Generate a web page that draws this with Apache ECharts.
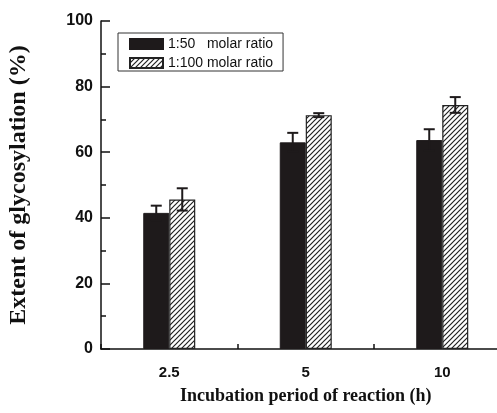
<!DOCTYPE html>
<html><head><meta charset="utf-8">
<script src="https://cdn.jsdelivr.net/npm/echarts@6/dist/echarts.min.js"></script>
<style>html,body{margin:0;padding:0;background:#fff}#c{width:497px;height:413px}</style>
</head><body><div id="c"></div>
<script>
const categories = ['2.5', '5', '10'];
const ratio50 = [41.5, 63.0, 63.7];
const ratio50Err = [2.2, 2.9, 3.3];
const ratio100 = [45.6, 71.3, 74.4];
const ratio100Err = [3.4, 0.6, 2.4];
const seriesNames = ['1:50   molar ratio', '1:100 molar ratio'];

function makeHatch(){
  const c = document.createElement('canvas'); c.width = 5; c.height = 5;
  const g = c.getContext('2d');
  g.fillStyle = '#fff'; g.fillRect(0,0,5,5);
  g.strokeStyle = '#222'; g.lineWidth = 1.2;
  g.beginPath();
  g.moveTo(0,5); g.lineTo(5,0);
  g.moveTo(-1,1); g.lineTo(1,-1);
  g.moveTo(4,6); g.lineTo(6,4);
  g.stroke();
  return c;
}
const hatch = {image: makeHatch(), repeat: 'repeat'};
const BW = 26;

function errSeries(vals, errs, offset){
  return {
    type: 'custom',
    z: 5,
    silent: true,
    data: vals.map((v,i)=>[i, v, errs[i]]),
    encode: {x: 0, y: 1},
    renderItem(params, api){
      const i = api.value(0), v = api.value(1), e = api.value(2);
      const hi = api.coord([i, v + e]);
      const lo = api.coord([i, v - e]);
      const x = hi[0] + offset;
      const st = {stroke: '#1e1a1b', lineWidth: 2};
      return {type: 'group', children: [
        {type: 'line', shape: {x1: x, y1: hi[1], x2: x, y2: lo[1]}, style: st},
        {type: 'line', shape: {x1: x-5.5, y1: hi[1], x2: x+5.5, y2: hi[1]}, style: st},
        {type: 'line', shape: {x1: x-5.5, y1: lo[1], x2: x+5.5, y2: lo[1]}, style: st}
      ]};
    }
  };
}

const chart = echarts.init(document.getElementById('c'));
chart.setOption({
  animation: false,
  backgroundColor: '#fff',
  grid: {left: 101, right: -13.5, top: 21, bottom: 64, containLabel: false, outerBoundsMode: 'none'},
  legend: {
    orient: 'vertical', left: 118, top: 33,
    data: seriesNames,
    icon: 'rect', itemWidth: 33, itemHeight: 10, itemGap: 5,
    padding: [4, 10, 1, 11],
    borderColor: '#333', borderWidth: 1,
    textStyle: {fontFamily: 'Liberation Sans, Arial, sans-serif', fontSize: 14, color: '#111'},
    selectedMode: false
  },
  xAxis: {
    type: 'category', data: categories, boundaryGap: true,
    name: 'Incubation period of reaction (h)', nameLocation: 'middle', nameGap: 38,
    nameTextStyle: {fontFamily: 'Liberation Serif, Times New Roman, serif', fontWeight: 'bold', fontSize: 18, color: '#111'},
    axisLine: {lineStyle: {color: '#111', width: 1.5}},
    axisTick: {show: true, inside: true, length: 5, lineStyle: {color: '#111', width: 1.5}},
    axisLabel: {fontFamily: 'Liberation Sans, Arial, sans-serif', fontWeight: 'bold', fontSize: 15, color: '#111', margin: 16},
    splitLine: {show: false}
  },
  yAxis: {
    type: 'value', min: 0, max: 100, interval: 20,
    name: 'Extent of glycosylation (%)', nameLocation: 'middle', nameGap: 70,
    nameTextStyle: {fontFamily: 'Liberation Serif, Times New Roman, serif', fontWeight: 'bold', fontSize: 24, color: '#111'},
    axisLine: {show: true, lineStyle: {color: '#111', width: 1.5}},
    axisTick: {show: true, inside: true, length: 9, lineStyle: {color: '#111', width: 1.5}},
    minorTick: {show: true, splitNumber: 2, length: 5, lineStyle: {color: '#111', width: 1.5}},
    axisLabel: {fontFamily: 'Liberation Sans, Arial, sans-serif', fontWeight: 'bold', fontSize: 16, color: '#111', margin: 8},
    splitLine: {show: false}
  },
  series: [
    {name: seriesNames[0], type: 'bar', data: ratio50, barWidth: BW, barGap: '0%',
     itemStyle: {color: '#1e1a1b', borderColor: '#1e1a1b', borderWidth: 1}},
    {name: seriesNames[1], type: 'bar', data: ratio100, barWidth: BW, barGap: '0%',
     itemStyle: {color: hatch, borderColor: '#222', borderWidth: 1.2}},
    errSeries(ratio50, ratio50Err, -BW/2),
    errSeries(ratio100, ratio100Err, BW/2)
  ]
});
</script></body></html>
